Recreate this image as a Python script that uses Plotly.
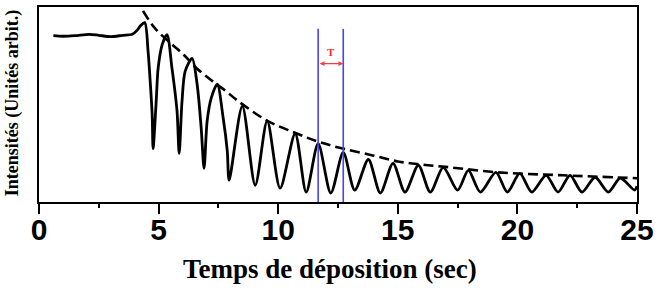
import plotly.graph_objects as go

# Deposition time (s) and intensity (arb. units)
t_curve = [0.6, 1.0, 1.5, 2.1, 2.5, 3.0, 3.5, 3.9, 4.1, 4.25, 4.42,
           4.56, 4.64, 4.73, 4.77, 4.90, 4.98, 5.15, 5.35,
           5.56, 5.77, 5.86, 5.98, 6.11, 6.40,
           6.61, 6.78, 6.90, 7.03, 7.20, 7.45,
           7.70, 7.87, 7.95, 8.50, 9.04, 9.54, 10.08, 10.71, 11.17, 11.67,
           12.20, 12.72, 13.20, 13.77, 14.27, 14.80, 15.30, 15.86, 16.36,
           16.90, 17.50, 17.95, 18.45, 19.10, 19.58, 20.10, 20.60, 21.20,
           21.70, 22.20, 22.70, 23.25, 23.80, 24.30, 24.90, 25.00]
i_curve = [85.3, 85.0, 85.3, 86.0, 85.5, 84.8, 85.5, 86.0, 88.0, 90.5, 92.0,
           77.2, 63.5, 45.2, 27.4, 51.8, 68.5, 80.7, 85.8,
           68.5, 46.7, 24.9, 51.8, 67.0, 73.6,
           60.4, 38.0, 17.3, 41.6, 53.3, 60.4,
           43.1, 26.4, 11.2, 49.2, 8.6, 41.6, 7.1, 35.0, 5.1, 29.9,
           4.6, 25.4, 6.1, 21.8, 4.6, 19.8, 5.1, 18.8, 5.1,
           17.8, 6.1, 16.2, 5.1, 15.2, 5.1, 14.7, 5.1, 13.7,
           5.1, 13.7, 5.1, 12.7, 5.1, 12.2, 6.1, 8.1]

# Decay envelope (dashed)
t_env = [4.35, 4.85, 5.55, 6.05, 6.60, 7.25, 7.80, 8.30, 9.55, 10.70,
         11.65, 12.70, 13.95, 15.00, 16.00, 17.00, 19.20, 21.90, 25.00]
i_env = [98.0, 89.0, 81.0, 75.5, 68.5, 62.0, 57.0, 52.0, 41.6, 35.5,
         31.0, 27.4, 23.9, 20.8, 19.2, 18.0, 15.2, 13.7, 12.2]

# Period markers
period_t = [11.67, 12.72]
period_top = 88.8
arrow_level = 71.0
period_label = "T"

x_ticks = [0, 5, 10, 15, 20, 25]
x_title = "Temps de déposition (sec)"
y_title = "Intensités (Unités arbit.)"

fig = go.Figure()

fig.add_trace(go.Scatter(
    x=t_curve, y=i_curve, mode="lines",
    line=dict(color="black", width=2.8, shape="spline", smoothing=0.8),
    hoverinfo="skip", showlegend=False))

fig.add_trace(go.Scatter(
    x=t_env, y=i_env, mode="lines",
    line=dict(color="black", width=2.6, dash="10px,5px", shape="spline"),
    hoverinfo="skip", showlegend=False))

fig.add_trace(go.Scatter(
    x=[period_t[0], period_t[0], None, period_t[1], period_t[1]],
    y=[0, period_top, None, 0, period_top], mode="lines",
    line=dict(color="#4646f0", width=1.6),
    hoverinfo="skip", showlegend=False))

fig.add_annotation(
    x=period_t[1], y=arrow_level, ax=period_t[0], ay=arrow_level,
    xref="x", yref="y", axref="x", ayref="y", text="",
    showarrow=True, arrowhead=2, startarrowhead=2, arrowside="end+start",
    arrowsize=0.8, arrowwidth=1.2, arrowcolor="#ff3b3b",
    startstandoff=0, standoff=0)

fig.add_annotation(
    x=(period_t[0] + period_t[1]) / 2, y=arrow_level, yshift=12,
    xref="x", yref="y", text="<b>" + period_label + "</b>", showarrow=False,
    font=dict(family="Liberation Serif", size=11, color="#ff2a2a"))

fig.add_annotation(
    x=0.487, y=-0.345, xref="paper", yref="paper", text="<b>" + x_title + "</b>",
    showarrow=False, xanchor="center", yanchor="middle",
    font=dict(family="Liberation Serif", size=27, color="black"))

fig.add_annotation(
    x=-0.044, y=0.51, xref="paper", yref="paper", text="<b>" + y_title + "</b>",
    showarrow=False, xanchor="center", yanchor="middle", textangle=-90,
    font=dict(family="Liberation Serif", size=18, color="black"))

fig.update_xaxes(
    range=[0, 25], tickvals=x_ticks, ticktext=[str(v) for v in x_ticks],
    ticks="outside", ticklen=10, tickwidth=2, tickcolor="black",
    minor=dict(tick0=0, dtick=2.5, ticks="outside", ticklen=4, tickwidth=1.5, tickcolor="black"),
    showline=True, linewidth=2, linecolor="black", mirror=True,
    showgrid=False, zeroline=False, ticklabelstandoff=-10,
    tickfont=dict(family="Liberation Sans", size=30, color="black", weight="bold"))

fig.update_yaxes(
    range=[0, 100], showticklabels=False, ticks="",
    showline=True, linewidth=2, linecolor="black", mirror=True,
    showgrid=False, zeroline=False)

fig.update_layout(
    width=670, height=290,
    margin=dict(l=39, r=33, t=5, b=88),
    plot_bgcolor="white", paper_bgcolor="white")

fig.write_html("out.html")
